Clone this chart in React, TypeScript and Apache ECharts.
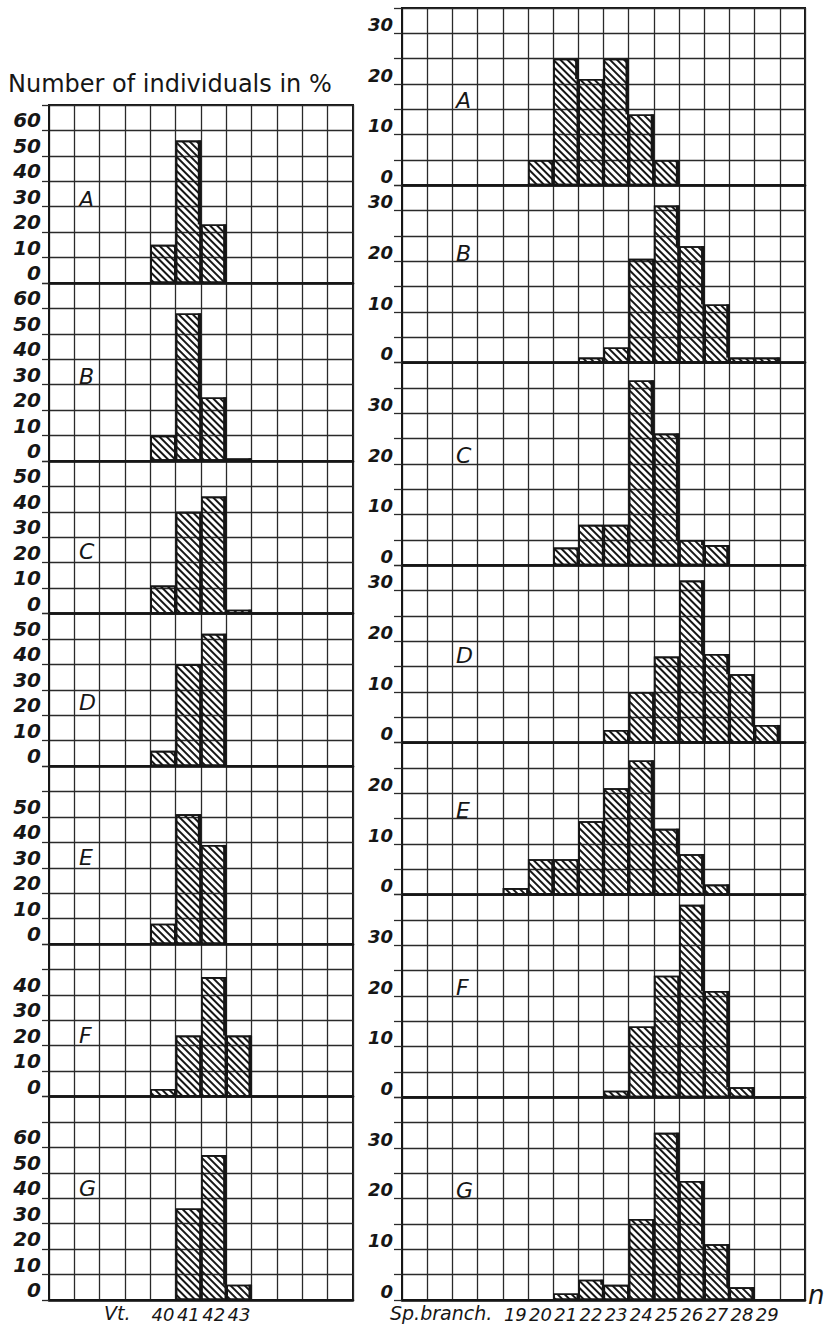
import React, { useEffect, useRef } from "react";
import * as echarts from "echarts";

// ---------- data ----------
const leftCategories = ["36", "37", "38", "39", "40", "41", "42", "43", "44", "45", "46", "47"];
const leftTickLabels = ["40", "41", "42", "43"];
const rightCategories = ["15", "16", "17", "18", "19", "20", "21", "22", "23", "24", "25", "26", "27", "28", "29", "30"];
const rightTickLabels = ["19", "20", "21", "22", "23", "24", "25", "26", "27", "28", "29"];
const panelNames = ["A", "B", "C", "D", "E", "F", "G"];

// Vertebrae (Vt.), % of individuals, first value belongs to the given start class
const vtStart = [40, 40, 40, 40, 40, 40, 41];
const vtA = [15, 56, 23];
const vtB = [10, 58, 25, 1];
const vtC = [11, 40, 46, 1.5];
const vtD = [6, 40, 52];
const vtE = [8, 51, 39];
const vtF = [3, 24, 47, 24];
const vtG = [36, 57, 6];

// Sp. branch., % of individuals
const spStart = [20, 22, 21, 23, 19, 23, 21];
const spA = [5, 25, 21, 25, 14, 5];
const spB = [1, 3, 20.5, 31, 23, 11.5, 1, 1];
const spC = [3.5, 8, 8, 36.5, 26, 5, 4];
const spD = [2.5, 10, 17, 32, 17.5, 13.5, 3.5];
const spE = [1.3, 7, 7, 14.5, 21, 26.5, 13, 8, 2];
const spF = [1.3, 14, 24, 38, 21, 2];
const spG = [1.3, 4, 3, 16, 33, 23.5, 11, 2.5];

// axis extents per panel (rows of the grid paper) and highest printed tick label
const leftRows = [7, 7, 6, 6, 7, 6, 8];
const leftLabelMax = [60, 60, 50, 50, 50, 40, 60];
const rightRows = [7, 7, 8, 7, 6, 8, 8];
const rightLabelMax = [30, 30, 30, 30, 20, 30, 30];

const vtSeries = [vtA, vtB, vtC, vtD, vtE, vtF, vtG];
const spSeries = [spA, spB, spC, spD, spE, spF, spG];

// vertical placement of the panel letters (px)
const leftLetterY = [199, 376, 551, 702, 857, 1035, 1188];
const rightLetterY = [100, 253, 455, 655, 810, 987, 1190];

function pad(values: number[], start: number, cats: string[]) {
  const idx = cats.indexOf(String(start));
  return cats.map((_, i) => {
    const k = i - idx;
    return k >= 0 && k < values.length ? values[k] : null;
  });
}

const INK = "#161616";
const LINE = "#2a2a2a";
const FONT = "DejaVu Sans";

function buildOption() {
  const grids: any[] = [];
  const xAxes: any[] = [];
  const yAxes: any[] = [];
  const series: any[] = [];
  const graphics: any[] = [];

  const sides = [
    {
      left: 49, width: 304, top: 105, bottom: 1300, rows: leftRows, labelMax: leftLabelMax,
      unit: 10, cats: leftCategories, ticks: leftTickLabels, data: vtSeries, start: vtStart,
      labelSize: 20, tickLen: 7, letterX: 79, letterY: leftLetterY,
    },
    {
      left: 402, width: 403, top: 8, bottom: 1300, rows: rightRows, labelMax: rightLabelMax,
      unit: 5, cats: rightCategories, ticks: rightTickLabels, data: spSeries, start: spStart,
      labelSize: 18, tickLen: 8, letterX: 456, letterY: rightLetterY,
    },
  ];

  sides.forEach((s) => {
    const total = s.rows.reduce((a, b) => a + b, 0);
    const rowH = (s.bottom - s.top) / total;
    let y = s.top;
    s.rows.forEach((r, p) => {
      const g = grids.length;
      const h = r * rowH;
      const isBottom = p === s.rows.length - 1;
      grids.push({
        left: s.left, top: y, width: s.width, height: h,
        show: true, borderColor: INK, borderWidth: 2, containLabel: false,
      });
      xAxes.push({
        type: "category", gridIndex: g, data: s.cats, boundaryGap: true,
        axisLine: { show: true, onZero: false, lineStyle: { color: INK, width: 2.6 } },
        axisTick: { show: false },
        axisLabel: {
          show: isBottom, interval: 0, margin: 5,
          formatter: (v: string) => (s.ticks.includes(v) ? v : ""),
          color: INK, fontFamily: FONT, fontStyle: "italic", fontSize: 18,
        },
        splitLine: { show: true, interval: 0, lineStyle: { color: LINE, width: 1.3 } },
      });
      const lm = s.labelMax[p];
      yAxes.push({
        type: "value", gridIndex: g, min: 0, max: r * s.unit, interval: s.unit,
        axisLine: { show: true, lineStyle: { color: INK, width: 2 } },
        axisTick: { show: true, length: s.tickLen, lineStyle: { color: LINE, width: 1.3 } },
        axisLabel: {
          formatter: (v: number) => (v % 10 === 0 && v <= lm ? String(v) : ""),
          verticalAlign: "bottom", margin: s.tickLen + 1, color: INK, fontFamily: FONT,
          fontStyle: "italic", fontWeight: "bold", fontSize: s.labelSize, lineHeight: s.labelSize,
        },
        splitLine: { show: true, lineStyle: { color: LINE, width: 1.3 } },
      });
      const full = pad(s.data[p], s.start[p], s.cats);
      series.push({
        type: "bar", xAxisIndex: g, yAxisIndex: g, data: full, barCategoryGap: "0%",
        silent: true, z: 2,
        itemStyle: {
          color: "rgba(0,0,0,0)", borderColor: INK, borderWidth: 1.6,
          decal: {
            symbol: "rect", color: INK, backgroundColor: "rgba(0,0,0,0)",
            dashArrayX: [1, 0], dashArrayY: [1.6, 2.4], rotation: Math.PI / 4, symbolSize: 1,
          },
        },
      });
      const edges = full
        .map((v, i) => [i, v ?? 0, full[i + 1] ?? 0])
        .filter((d) => (d[1] as number) > 0 && (d[1] as number) > (d[2] as number));
      series.push({
        type: "custom", xAxisIndex: g, yAxisIndex: g, data: edges, silent: true, z: 3,
        encode: { x: 0, y: 1 },
        renderItem: (params: any, api: any) => {
          const i = api.value(0);
          const hgt = api.value(1);
          const nxt = api.value(2);
          const topPt = api.coord([i, hgt]);
          const botPt = api.coord([i, nxt]);
          const bw = api.size([1, 0])[0];
          const xr = topPt[0] + bw / 2;
          return {
            type: "rect",
            shape: { x: xr - 3.2, y: topPt[1], width: 3.6, height: botPt[1] - topPt[1] },
            style: { fill: INK },
          };
        },
      });
      graphics.push({
        type: "text", x: s.letterX, y: s.letterY[p],
        style: { text: panelNames[p], font: `italic 22px ${FONT}`, fill: INK, verticalAlign: "middle" },
      });
      y += h;
    });
  });

  graphics.push({
    type: "text", left: 8, top: 72,
    style: { text: "Number of individuals in %", font: `24px ${FONT}`, fill: INK },
  });
  graphics.push({
    type: "text", left: 104, top: 1303,
    style: { text: "Vt.", font: `italic 19px ${FONT}`, fill: INK },
  });
  graphics.push({
    type: "text", left: 390, top: 1303,
    style: { text: "Sp.branch.", font: `italic 19px ${FONT}`, fill: INK },
  });
  graphics.push({
    type: "text", left: 808, top: 1282,
    style: { text: "n", font: `italic 26px ${FONT}`, fill: INK },
  });

  return {
    animation: false,
    backgroundColor: "#ffffff",
    grid: grids,
    xAxis: xAxes,
    yAxis: yAxes,
    series,
    graphic: graphics,
  };
}

export default function App() {
  const ref = useRef<HTMLDivElement>(null);
  useEffect(() => {
    if (!ref.current) return;
    const chart = echarts.init(ref.current, undefined, { renderer: "svg" });
    chart.setOption(buildOption() as any);
    return () => chart.dispose();
  }, []);
  return (
    <div
      ref={ref}
      style={{ position: "absolute", left: 0, top: 0, width: 826, height: 1329, background: "#fff" }}
    />
  );
}
